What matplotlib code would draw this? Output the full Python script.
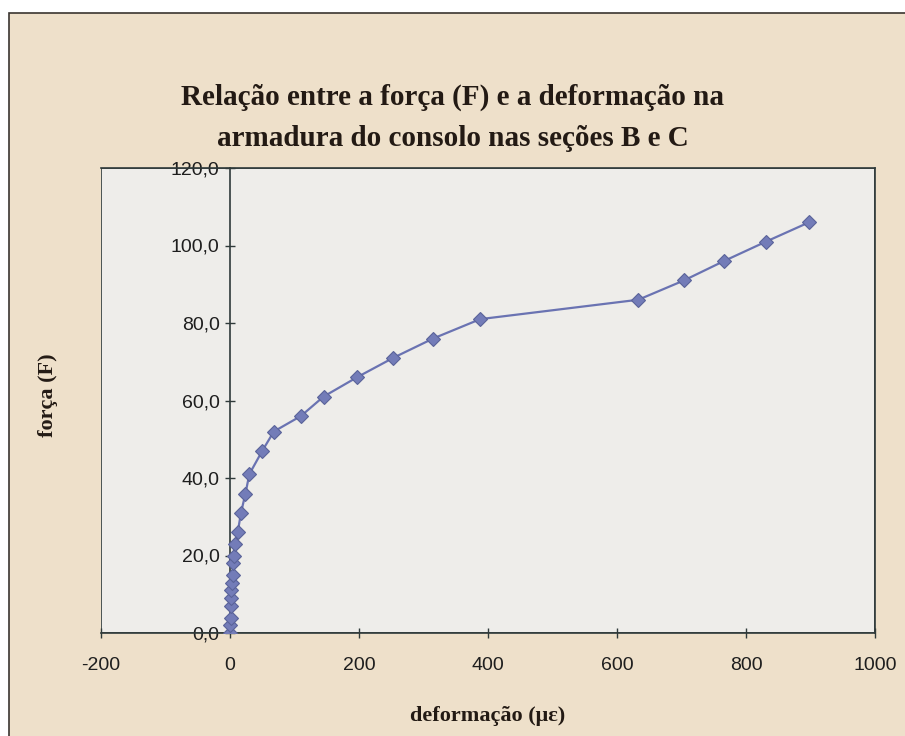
import matplotlib
matplotlib.use('Agg')
import matplotlib.pyplot as plt
from matplotlib.patches import Rectangle
from matplotlib.ticker import FuncFormatter

plt.rcParams['axes.unicode_minus'] = False

# strain readings (micro-strain) and applied load
deformacao = [0, 0, 1, 1, 1, 2, 3, 4, 5, 6, 8, 12, 17, 24, 30, 50, 68,
              110, 145, 197, 253, 315, 388, 633, 704, 766, 831, 898]
forca = [0, 2, 4, 7, 9, 11, 13, 15, 18, 20, 23, 26, 31, 36, 41, 47, 52,
         56, 61, 66, 71, 76, 81, 86, 91, 96, 101, 106]

x_ticks = [-200, 0, 200, 400, 600, 800, 1000]
y_ticks = [0, 20, 40, 60, 80, 100, 120]

titulo = ['Relação entre a força (F) e a deformação na',
          'armadura do consolo nas seções B e C']

fig = plt.figure(figsize=(9.05, 7.36), dpi=100)
fig.patch.set_facecolor('white')

# chart frame
frame = Rectangle((9 / 905, -0.05), 1.0, (736 - 13) / 736 + 0.05,
                  transform=fig.transFigure, facecolor='#eee0ca',
                  edgecolor='#3a3530', linewidth=1.2, zorder=-10)
fig.patches.append(frame)

ax = fig.add_axes([101 / 905, (736 - 633) / 736, 774 / 905, (633 - 168) / 736])
ax.set_facecolor('#eeedea')

ax.plot(deformacao, forca, color='#6a73b2', linewidth=1.6,
        marker='D', markersize=7.5, markerfacecolor='#737cb8',
        markeredgecolor='#5a6399', markeredgewidth=0.8, zorder=3)

ax.set_xlim(-200, 1000)
ax.set_ylim(0, 120)
ax.set_xticks(x_ticks)
ax.set_yticks(y_ticks)
ax.yaxis.set_major_formatter(FuncFormatter(lambda v, p: f'{v:.1f}'.replace('.', ',')))

# value axis crosses at x = 0, box drawn around the plot area
ax.spines['left'].set_position(('data', 0))
for s in ['top', 'right', 'bottom', 'left']:
    ax.spines[s].set_color('#2f3a3a')
    ax.spines[s].set_linewidth(1.2)
ax.add_patch(Rectangle((0, 0), 1, 1, transform=ax.transAxes, fill=False,
                       edgecolor='#2f3a3a', linewidth=1.2, zorder=1))

ax.tick_params(axis='both', direction='inout', length=7, width=1.0,
               color='#2f3a3a', labelcolor='#1e1e1e')
ax.tick_params(axis='y', pad=4, labelsize=14)
ax.tick_params(axis='x', pad=14, labelsize=14)
for lab in ax.get_xticklabels() + ax.get_yticklabels():
    lab.set_family('Liberation Sans')

serif_bold = dict(fontweight='bold', family='Liberation Serif', color='#231a14')
fig.text(0.5, (736 - 97) / 736, titulo[0], ha='center', va='center',
         fontsize=21, **serif_bold)
fig.text(0.5, (736 - 138) / 736, titulo[1], ha='center', va='center',
         fontsize=21, **serif_bold)

fig.text(48 / 905, (736 - 395) / 736, 'força (F)', rotation=90, ha='center', va='center',
         fontsize=16, **serif_bold)
fig.text(488 / 905, (736 - 716) / 736, 'deformação (με)', ha='center', va='center',
         fontsize=16, **serif_bold)

fig.savefig('out.png', dpi=100, facecolor=fig.get_facecolor())
